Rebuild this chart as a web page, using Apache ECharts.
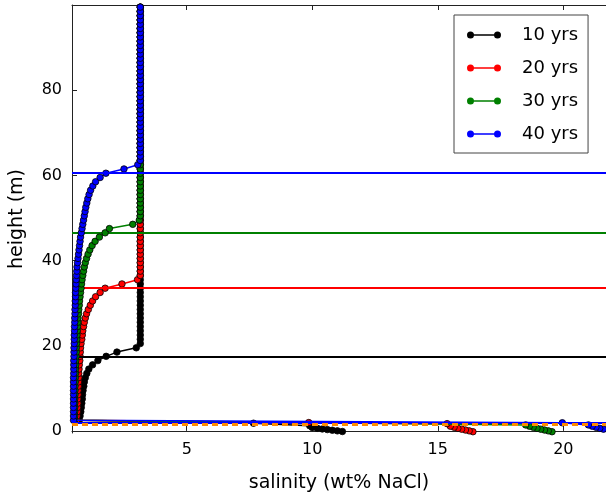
<!DOCTYPE html>
<html>
<head>
<meta charset="UTF-8">
<title>salinity profiles</title>
<script src="https://cdn.jsdelivr.net/npm/echarts@6/dist/echarts.min.js"></script>
<style>
  html, body { margin: 0; padding: 0; background: #fff; }
  #chart { width: 606px; height: 498px; }
</style>
</head>
<body>
<div id="chart"></div>
<script>
// model cell heights (m), bottom to top
var cellHeights = [2.5, 3.5, 4.5, 5.5, 6.5, 7.5, 8.5, 9.5, 10.5, 11.5, 12.5, 13.5, 14.5, 15.5, 16.5, 17.5, 18.5, 19.5,
  20.5, 21.5, 22.5, 23.5, 24.5, 25.5, 26.5, 27.5, 28.5, 29.5, 30.5, 31.5, 32.5, 33.5, 34.5, 35.5, 36.5, 37.5, 38.5, 39.5,
  40.5, 41.5, 42.5, 43.5, 44.5, 45.5, 46.5, 47.5, 48.5, 49.5, 50.5, 51.5, 52.5, 53.5, 54.5, 55.5, 56.5, 57.5, 58.5, 59.5,
  60.5, 61.5, 62.5, 63.5, 64.5, 65.5, 66.5, 67.5, 68.5, 69.5, 70.5, 71.5, 72.5, 73.5, 74.5, 75.5, 76.5, 77.5, 78.5, 79.5,
  80.5, 81.5, 82.5, 83.5, 84.5, 85.5, 86.5, 87.5, 88.5, 89.5, 90.5, 91.5, 92.5, 93.5, 94.5, 95.5, 96.5, 97.5, 98.5, 99.5];

// salinity of the upper column (wt% NaCl), same for every run
var columnSalinity = 3.15;

// salinity of the lower cells, from 2.5 m upwards, until the profile joins the column
var sal10 = [0.72, 0.75, 0.78, 0.8, 0.82, 0.84, 0.85, 0.87, 0.9, 0.92, 0.96, 1.02, 1.1, 1.25, 1.46, 1.79, 2.22, 2.99];
var sal20 = [0.62, 0.63, 0.64, 0.65, 0.66, 0.66, 0.67, 0.67, 0.68, 0.69, 0.7, 0.7, 0.71, 0.72, 0.74, 0.75, 0.76, 0.77,
  0.79, 0.82, 0.84, 0.86, 0.89, 0.92, 0.96, 1.01, 1.08, 1.16, 1.25, 1.37, 1.55, 1.75, 2.42, 3.04];
var sal30 = [0.54, 0.54, 0.54, 0.54, 0.54, 0.54, 0.55, 0.55, 0.55, 0.56, 0.56, 0.57, 0.57, 0.58, 0.58, 0.59, 0.6, 0.6,
  0.61, 0.62, 0.63, 0.64, 0.65, 0.66, 0.67, 0.69, 0.7, 0.72, 0.73, 0.75, 0.77, 0.79, 0.81, 0.83, 0.86, 0.89, 0.92, 0.96,
  1.01, 1.07, 1.14, 1.23, 1.35, 1.52, 1.75, 1.92, 2.85, 3.11];
var sal40 = [0.49, 0.49, 0.49, 0.49, 0.49, 0.49, 0.49, 0.49, 0.49, 0.49, 0.49, 0.5, 0.5, 0.5, 0.5, 0.51, 0.51, 0.51,
  0.52, 0.52, 0.52, 0.53, 0.53, 0.54, 0.54, 0.55, 0.55, 0.56, 0.56, 0.57, 0.57, 0.58, 0.59, 0.6, 0.61, 0.62, 0.63, 0.65,
  0.67, 0.69, 0.71, 0.73, 0.75, 0.77, 0.8, 0.83, 0.86, 0.89, 0.92, 0.95, 0.98, 1.02, 1.06, 1.11, 1.17, 1.26, 1.37, 1.55,
  1.78, 2.5, 3.05];

// brine at the base: [salinity, height], deepest first
var bottom10 = [[11.2, -0.15], [11.0, 0.0], [10.8, 0.15], [10.6, 0.3], [10.4, 0.45], [10.2, 0.6], [10.0, 0.8], [9.9, 1.2], [7.66, 1.8]];
var bottom20 = [[16.4, -0.2], [16.25, 0.0], [16.1, 0.2], [15.95, 0.4], [15.8, 0.6], [15.65, 0.85], [15.5, 1.1], [15.37, 1.7], [9.86, 1.95]];
var bottom30 = [[19.55, -0.2], [19.4, 0.0], [19.25, 0.2], [19.1, 0.4], [18.95, 0.6], [18.8, 0.85], [18.65, 1.1], [18.5, 1.4]];
var bottom40 = [[21.9, 0.0], [21.75, 0.2], [21.6, 0.4], [21.45, 0.6], [21.3, 0.85], [21.15, 1.1], [21.0, 1.4], [19.96, 1.9]];

// front heights (m)
var front10 = 17.5, front20 = 33.5, front30 = 46.5, front40 = 60.5;
var baseBlue = 2.0, baseOrange = 1.5;

var names = ['10 yrs', '20 yrs', '30 yrs', '40 yrs'];
var colors = ['#000000', '#ff0000', '#008000', '#0000ff'];

var xTicks = [5, 10, 15, 20];
var yTicks = [0, 20, 40, 60, 80];

function profile(bottom, lower) {
    var pts = bottom.slice();
    for (var i = 0; i < cellHeights.length; i++) {
        pts.push([i < lower.length ? lower[i] : columnSalinity, cellHeights[i]]);
    }
    return pts;
}

var fontName = 'DejaVu Sans';
var legendIcon = 'path://M0,4A3.5,3.5 0 1 1 7,4A3.5,3.5 0 1 1 0,4Z M27,4A3.5,3.5 0 1 1 34,4A3.5,3.5 0 1 1 27,4Z M3,3.25L31,3.25L31,4.75L3,4.75Z';

function hLine(value, color) {
    return {
        silent: true,
        symbol: ['none', 'none'],
        label: { show: false },
        emphasis: { disabled: true },
        lineStyle: { color: color, width: 2, type: 'solid', opacity: 1 },
        data: [{ yAxis: value }]
    };
}

function lineSeries(idx, data, marks) {
    return {
        name: names[idx],
        type: 'line',
        data: data,
        color: colors[idx],
        symbol: 'circle',
        symbolSize: 6.5,
        showAllSymbol: true,
        lineStyle: { width: 1.5, color: colors[idx] },
        itemStyle: { color: colors[idx], borderColor: '#000', borderWidth: 0.8 },
        markLine: marks,
        clip: true,
        z: 3 + idx
    };
}

// blue front, blue base line and the orange dashed base line
var blueMarks = hLine(front40, '#0000ff');
blueMarks.z = 12;
blueMarks.data = [
    { yAxis: front40 },
    { yAxis: baseBlue },
    { yAxis: baseOrange, lineStyle: { color: '#ff8c00', type: [6, 4], width: 3 } }
];

var option = {
    animation: false,
    backgroundColor: '#ffffff',
    textStyle: { fontFamily: fontName },
    grid: { left: 72, right: 0, top: 5, bottom: 63 },
    legend: {
        data: names,
        orient: 'vertical',
        left: 454,
        top: 15,
        padding: [10, 10, 9, 13],
        itemGap: 13,
        itemWidth: 34,
        itemHeight: 7,
        icon: legendIcon,
        itemStyle: { borderWidth: 0 },
        backgroundColor: '#ffffff',
        borderColor: '#444',
        borderWidth: 1,
        borderRadius: 0,
        textStyle: { fontSize: 18, color: '#000', fontFamily: fontName, lineHeight: 20, padding: [0, 0, 0, 16] }
    },
    xAxis: [{
        type: 'value',
        min: 0.43,
        max: 21.7,
        name: 'salinity (wt% NaCl)',
        nameLocation: 'middle',
        nameGap: 41,
        nameTextStyle: { fontSize: 19, color: '#000', fontFamily: fontName },
        axisLine: { show: true, lineStyle: { color: '#222', width: 1 } },
        axisTick: { show: true, inside: true, length: 5, customValues: xTicks, lineStyle: { color: '#222' } },
        axisLabel: { customValues: xTicks, fontSize: 16, color: '#000', margin: 9, fontFamily: fontName },
        splitLine: { show: false }
    }, {
        type: 'value',
        position: 'top',
        min: 0.43,
        max: 21.7,
        axisLine: { show: true, lineStyle: { color: '#222', width: 1 } },
        axisTick: { show: true, inside: true, length: 5, customValues: xTicks, lineStyle: { color: '#222' } },
        axisLabel: { show: false },
        splitLine: { show: false }
    }],
    yAxis: {
        type: 'value',
        min: -0.5,
        max: 100,
        name: 'height (m)',
        nameLocation: 'middle',
        nameGap: 45,
        nameRotate: 90,
        nameTextStyle: { fontSize: 19, color: '#000', fontFamily: fontName },
        axisLine: { show: true, lineStyle: { color: '#222', width: 1 } },
        axisTick: { show: true, inside: true, length: 5, customValues: yTicks, lineStyle: { color: '#222' } },
        axisLabel: { customValues: yTicks, fontSize: 16, color: '#000', margin: 10, fontFamily: fontName },
        splitLine: { show: false }
    },
    series: [
        lineSeries(0, profile(bottom10, sal10), hLine(front10, '#000000')),
        lineSeries(1, profile(bottom20, sal20), hLine(front20, '#ff0000')),
        lineSeries(2, profile(bottom30, sal30), hLine(front30, '#008000')),
        lineSeries(3, profile(bottom40, sal40), blueMarks)
    ]
};

echarts.init(document.getElementById('chart')).setOption(option);
</script>
</body>
</html>
